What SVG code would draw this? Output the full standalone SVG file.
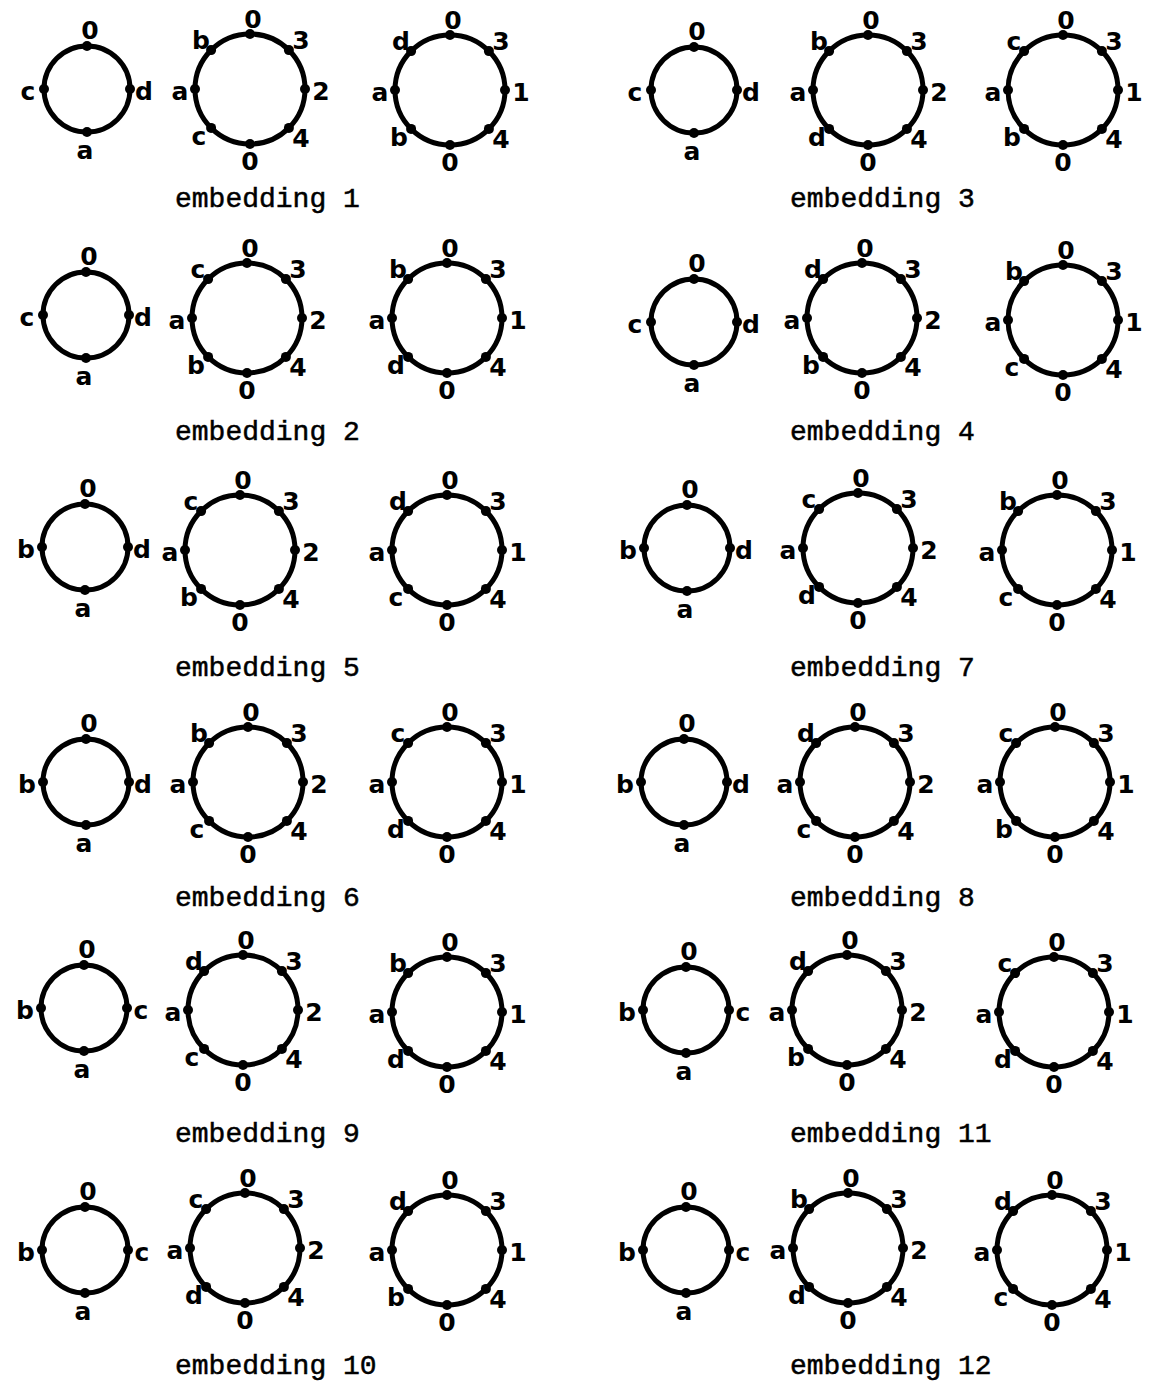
<svg xmlns="http://www.w3.org/2000/svg" xmlns:xlink="http://www.w3.org/1999/xlink" width="1150" height="1388" viewBox="0 0 1150 1388">
<style>
.ring{fill:none;stroke:#000;stroke-width:5}
.dot{fill:#000}
.lbl{font-family:"DejaVu Sans","Liberation Sans",sans-serif;font-size:25px;font-weight:bold;text-anchor:middle;dominant-baseline:central;fill:#000}
.cap{font-family:"Liberation Mono","DejaVu Sans Mono",monospace;font-size:28px;fill:#000;stroke:#000;stroke-width:0.5}
</style>
<defs>
<g id="ring4">
<circle class="ring" r="43"/>
<circle class="dot" cx="0" cy="-43" r="5"/>
<circle class="dot" cx="43" cy="0" r="5"/>
<circle class="dot" cx="0" cy="43" r="5"/>
<circle class="dot" cx="-43" cy="0" r="5"/>
</g>
<g id="ring8">
<circle class="ring" r="55"/>
<circle class="dot" cx="0" cy="-55" r="5"/>
<circle class="dot" cx="38.9" cy="-38.9" r="5"/>
<circle class="dot" cx="55" cy="0" r="5"/>
<circle class="dot" cx="38.9" cy="38.9" r="5"/>
<circle class="dot" cx="0" cy="55" r="5"/>
<circle class="dot" cx="-38.9" cy="38.9" r="5"/>
<circle class="dot" cx="-55" cy="0" r="5"/>
<circle class="dot" cx="-38.9" cy="-38.9" r="5"/>
</g>
</defs>
<rect width="1150" height="1388" fill="#fff"/>
<g id="connectors"/>

<!-- embedding 1 -->
<g id="emb1">
<g id="emb1-s" transform="translate(87,89)"><use xlink:href="#ring4"/>
<text class="lbl" x="3" y="-59">0</text><text class="lbl" x="-59" y="2">c</text><text class="lbl" x="57" y="2">d</text><text class="lbl" x="-2" y="61">a</text></g>
<g id="emb1-m" transform="translate(250,89)"><use xlink:href="#ring8"/>
<text class="lbl" x="3" y="-70">0</text><text class="lbl" x="51" y="-49">3</text><text class="lbl" x="71" y="2">2</text><text class="lbl" x="51" y="49">4</text><text class="lbl" x="0" y="72">0</text><text class="lbl" x="-51" y="47">c</text><text class="lbl" x="-70" y="2">a</text><text class="lbl" x="-49" y="-49">b</text></g>
<g id="emb1-t" transform="translate(450,90)"><use xlink:href="#ring8"/>
<text class="lbl" x="3" y="-70">0</text><text class="lbl" x="51" y="-49">3</text><text class="lbl" x="71" y="2">1</text><text class="lbl" x="51" y="49">4</text><text class="lbl" x="0" y="72">0</text><text class="lbl" x="-51" y="47">b</text><text class="lbl" x="-70" y="2">a</text><text class="lbl" x="-49" y="-49">d</text></g>
<text class="cap" x="175" y="207">embedding 1</text>
</g>

<!-- embedding 3 -->
<g id="emb3">
<g id="emb3-s" transform="translate(694,90)"><use xlink:href="#ring4"/>
<text class="lbl" x="3" y="-59">0</text><text class="lbl" x="-59" y="2">c</text><text class="lbl" x="57" y="2">d</text><text class="lbl" x="-2" y="61">a</text></g>
<g id="emb3-m" transform="translate(868,90)"><use xlink:href="#ring8"/>
<text class="lbl" x="3" y="-70">0</text><text class="lbl" x="51" y="-49">3</text><text class="lbl" x="71" y="2">2</text><text class="lbl" x="51" y="49">4</text><text class="lbl" x="0" y="72">0</text><text class="lbl" x="-51" y="47">d</text><text class="lbl" x="-70" y="2">a</text><text class="lbl" x="-49" y="-49">b</text></g>
<g id="emb3-t" transform="translate(1063,90)"><use xlink:href="#ring8"/>
<text class="lbl" x="3" y="-70">0</text><text class="lbl" x="51" y="-49">3</text><text class="lbl" x="71" y="2">1</text><text class="lbl" x="51" y="49">4</text><text class="lbl" x="0" y="72">0</text><text class="lbl" x="-51" y="47">b</text><text class="lbl" x="-70" y="2">a</text><text class="lbl" x="-49" y="-49">c</text></g>
<text class="cap" x="790" y="207">embedding 3</text>
</g>

<!-- embedding 2 -->
<g id="emb2">
<g id="emb2-s" transform="translate(86,315)"><use xlink:href="#ring4"/>
<text class="lbl" x="3" y="-59">0</text><text class="lbl" x="-59" y="2">c</text><text class="lbl" x="57" y="2">d</text><text class="lbl" x="-2" y="61">a</text></g>
<g id="emb2-m" transform="translate(247,318)"><use xlink:href="#ring8"/>
<text class="lbl" x="3" y="-70">0</text><text class="lbl" x="51" y="-49">3</text><text class="lbl" x="71" y="2">2</text><text class="lbl" x="51" y="49">4</text><text class="lbl" x="0" y="72">0</text><text class="lbl" x="-51" y="47">b</text><text class="lbl" x="-70" y="2">a</text><text class="lbl" x="-49" y="-49">c</text></g>
<g id="emb2-t" transform="translate(447,318)"><use xlink:href="#ring8"/>
<text class="lbl" x="3" y="-70">0</text><text class="lbl" x="51" y="-49">3</text><text class="lbl" x="71" y="2">1</text><text class="lbl" x="51" y="49">4</text><text class="lbl" x="0" y="72">0</text><text class="lbl" x="-51" y="47">d</text><text class="lbl" x="-70" y="2">a</text><text class="lbl" x="-49" y="-49">b</text></g>
<text class="cap" x="175" y="440">embedding 2</text>
</g>

<!-- embedding 4 -->
<g id="emb4">
<g id="emb4-s" transform="translate(694,322)"><use xlink:href="#ring4"/>
<text class="lbl" x="3" y="-59">0</text><text class="lbl" x="-59" y="2">c</text><text class="lbl" x="57" y="2">d</text><text class="lbl" x="-2" y="61">a</text></g>
<g id="emb4-m" transform="translate(862,318)"><use xlink:href="#ring8"/>
<text class="lbl" x="3" y="-70">0</text><text class="lbl" x="51" y="-49">3</text><text class="lbl" x="71" y="2">2</text><text class="lbl" x="51" y="49">4</text><text class="lbl" x="0" y="72">0</text><text class="lbl" x="-51" y="47">b</text><text class="lbl" x="-70" y="2">a</text><text class="lbl" x="-49" y="-49">d</text></g>
<g id="emb4-t" transform="translate(1063,320)"><use xlink:href="#ring8"/>
<text class="lbl" x="3" y="-70">0</text><text class="lbl" x="51" y="-49">3</text><text class="lbl" x="71" y="2">1</text><text class="lbl" x="51" y="49">4</text><text class="lbl" x="0" y="72">0</text><text class="lbl" x="-51" y="47">c</text><text class="lbl" x="-70" y="2">a</text><text class="lbl" x="-49" y="-49">b</text></g>
<text class="cap" x="790" y="440">embedding 4</text>
</g>

<!-- embedding 5 -->
<g id="emb5">
<g id="emb5-s" transform="translate(85,547)"><use xlink:href="#ring4"/>
<text class="lbl" x="3" y="-59">0</text><text class="lbl" x="-59" y="2">b</text><text class="lbl" x="57" y="2">d</text><text class="lbl" x="-2" y="61">a</text></g>
<g id="emb5-m" transform="translate(240,550)"><use xlink:href="#ring8"/>
<text class="lbl" x="3" y="-70">0</text><text class="lbl" x="51" y="-49">3</text><text class="lbl" x="71" y="2">2</text><text class="lbl" x="51" y="49">4</text><text class="lbl" x="0" y="72">0</text><text class="lbl" x="-51" y="47">b</text><text class="lbl" x="-70" y="2">a</text><text class="lbl" x="-49" y="-49">c</text></g>
<g id="emb5-t" transform="translate(447,550)"><use xlink:href="#ring8"/>
<text class="lbl" x="3" y="-70">0</text><text class="lbl" x="51" y="-49">3</text><text class="lbl" x="71" y="2">1</text><text class="lbl" x="51" y="49">4</text><text class="lbl" x="0" y="72">0</text><text class="lbl" x="-51" y="47">c</text><text class="lbl" x="-70" y="2">a</text><text class="lbl" x="-49" y="-49">d</text></g>
<text class="cap" x="175" y="676">embedding 5</text>
</g>

<!-- embedding 7 -->
<g id="emb7">
<g id="emb7-s" transform="translate(687,548)"><use xlink:href="#ring4"/>
<text class="lbl" x="3" y="-59">0</text><text class="lbl" x="-59" y="2">b</text><text class="lbl" x="57" y="2">d</text><text class="lbl" x="-2" y="61">a</text></g>
<g id="emb7-m" transform="translate(858,548)"><use xlink:href="#ring8"/>
<text class="lbl" x="3" y="-70">0</text><text class="lbl" x="51" y="-49">3</text><text class="lbl" x="71" y="2">2</text><text class="lbl" x="51" y="49">4</text><text class="lbl" x="0" y="72">0</text><text class="lbl" x="-51" y="47">d</text><text class="lbl" x="-70" y="2">a</text><text class="lbl" x="-49" y="-49">c</text></g>
<g id="emb7-t" transform="translate(1057,550)"><use xlink:href="#ring8"/>
<text class="lbl" x="3" y="-70">0</text><text class="lbl" x="51" y="-49">3</text><text class="lbl" x="71" y="2">1</text><text class="lbl" x="51" y="49">4</text><text class="lbl" x="0" y="72">0</text><text class="lbl" x="-51" y="47">c</text><text class="lbl" x="-70" y="2">a</text><text class="lbl" x="-49" y="-49">b</text></g>
<text class="cap" x="790" y="676">embedding 7</text>
</g>

<!-- embedding 6 -->
<g id="emb6">
<g id="emb6-s" transform="translate(86,782)"><use xlink:href="#ring4"/>
<text class="lbl" x="3" y="-59">0</text><text class="lbl" x="-59" y="2">b</text><text class="lbl" x="57" y="2">d</text><text class="lbl" x="-2" y="61">a</text></g>
<g id="emb6-m" transform="translate(248,782)"><use xlink:href="#ring8"/>
<text class="lbl" x="3" y="-70">0</text><text class="lbl" x="51" y="-49">3</text><text class="lbl" x="71" y="2">2</text><text class="lbl" x="51" y="49">4</text><text class="lbl" x="0" y="72">0</text><text class="lbl" x="-51" y="47">c</text><text class="lbl" x="-70" y="2">a</text><text class="lbl" x="-49" y="-49">b</text></g>
<g id="emb6-t" transform="translate(447,782)"><use xlink:href="#ring8"/>
<text class="lbl" x="3" y="-70">0</text><text class="lbl" x="51" y="-49">3</text><text class="lbl" x="71" y="2">1</text><text class="lbl" x="51" y="49">4</text><text class="lbl" x="0" y="72">0</text><text class="lbl" x="-51" y="47">d</text><text class="lbl" x="-70" y="2">a</text><text class="lbl" x="-49" y="-49">c</text></g>
<text class="cap" x="175" y="906">embedding 6</text>
</g>

<!-- embedding 8 -->
<g id="emb8">
<g id="emb8-s" transform="translate(684,782)"><use xlink:href="#ring4"/>
<text class="lbl" x="3" y="-59">0</text><text class="lbl" x="-59" y="2">b</text><text class="lbl" x="57" y="2">d</text><text class="lbl" x="-2" y="61">a</text></g>
<g id="emb8-m" transform="translate(855,782)"><use xlink:href="#ring8"/>
<text class="lbl" x="3" y="-70">0</text><text class="lbl" x="51" y="-49">3</text><text class="lbl" x="71" y="2">2</text><text class="lbl" x="51" y="49">4</text><text class="lbl" x="0" y="72">0</text><text class="lbl" x="-51" y="47">c</text><text class="lbl" x="-70" y="2">a</text><text class="lbl" x="-49" y="-49">d</text></g>
<g id="emb8-t" transform="translate(1055,782)"><use xlink:href="#ring8"/>
<text class="lbl" x="3" y="-70">0</text><text class="lbl" x="51" y="-49">3</text><text class="lbl" x="71" y="2">1</text><text class="lbl" x="51" y="49">4</text><text class="lbl" x="0" y="72">0</text><text class="lbl" x="-51" y="47">b</text><text class="lbl" x="-70" y="2">a</text><text class="lbl" x="-49" y="-49">c</text></g>
<text class="cap" x="790" y="906">embedding 8</text>
</g>

<!-- embedding 9 -->
<g id="emb9">
<g id="emb9-s" transform="translate(84,1008)"><use xlink:href="#ring4"/>
<text class="lbl" x="3" y="-59">0</text><text class="lbl" x="-59" y="2">b</text><text class="lbl" x="57" y="2">c</text><text class="lbl" x="-2" y="61">a</text></g>
<g id="emb9-m" transform="translate(243,1010)"><use xlink:href="#ring8"/>
<text class="lbl" x="3" y="-70">0</text><text class="lbl" x="51" y="-49">3</text><text class="lbl" x="71" y="2">2</text><text class="lbl" x="51" y="49">4</text><text class="lbl" x="0" y="72">0</text><text class="lbl" x="-51" y="47">c</text><text class="lbl" x="-70" y="2">a</text><text class="lbl" x="-49" y="-49">d</text></g>
<g id="emb9-t" transform="translate(447,1012)"><use xlink:href="#ring8"/>
<text class="lbl" x="3" y="-70">0</text><text class="lbl" x="51" y="-49">3</text><text class="lbl" x="71" y="2">1</text><text class="lbl" x="51" y="49">4</text><text class="lbl" x="0" y="72">0</text><text class="lbl" x="-51" y="47">d</text><text class="lbl" x="-70" y="2">a</text><text class="lbl" x="-49" y="-49">b</text></g>
<text class="cap" x="175" y="1142">embedding 9</text>
</g>

<!-- embedding 11 -->
<g id="emb11">
<g id="emb11-s" transform="translate(686,1010)"><use xlink:href="#ring4"/>
<text class="lbl" x="3" y="-59">0</text><text class="lbl" x="-59" y="2">b</text><text class="lbl" x="57" y="2">c</text><text class="lbl" x="-2" y="61">a</text></g>
<g id="emb11-m" transform="translate(847,1010)"><use xlink:href="#ring8"/>
<text class="lbl" x="3" y="-70">0</text><text class="lbl" x="51" y="-49">3</text><text class="lbl" x="71" y="2">2</text><text class="lbl" x="51" y="49">4</text><text class="lbl" x="0" y="72">0</text><text class="lbl" x="-51" y="47">b</text><text class="lbl" x="-70" y="2">a</text><text class="lbl" x="-49" y="-49">d</text></g>
<g id="emb11-t" transform="translate(1054,1012)"><use xlink:href="#ring8"/>
<text class="lbl" x="3" y="-70">0</text><text class="lbl" x="51" y="-49">3</text><text class="lbl" x="71" y="2">1</text><text class="lbl" x="51" y="49">4</text><text class="lbl" x="0" y="72">0</text><text class="lbl" x="-51" y="47">d</text><text class="lbl" x="-70" y="2">a</text><text class="lbl" x="-49" y="-49">c</text></g>
<text class="cap" x="790" y="1142">embedding 11</text>
</g>

<!-- embedding 10 -->
<g id="emb10">
<g id="emb10-s" transform="translate(85,1250)"><use xlink:href="#ring4"/>
<text class="lbl" x="3" y="-59">0</text><text class="lbl" x="-59" y="2">b</text><text class="lbl" x="57" y="2">c</text><text class="lbl" x="-2" y="61">a</text></g>
<g id="emb10-m" transform="translate(245,1248)"><use xlink:href="#ring8"/>
<text class="lbl" x="3" y="-70">0</text><text class="lbl" x="51" y="-49">3</text><text class="lbl" x="71" y="2">2</text><text class="lbl" x="51" y="49">4</text><text class="lbl" x="0" y="72">0</text><text class="lbl" x="-51" y="47">d</text><text class="lbl" x="-70" y="2">a</text><text class="lbl" x="-49" y="-49">c</text></g>
<g id="emb10-t" transform="translate(447,1250)"><use xlink:href="#ring8"/>
<text class="lbl" x="3" y="-70">0</text><text class="lbl" x="51" y="-49">3</text><text class="lbl" x="71" y="2">1</text><text class="lbl" x="51" y="49">4</text><text class="lbl" x="0" y="72">0</text><text class="lbl" x="-51" y="47">b</text><text class="lbl" x="-70" y="2">a</text><text class="lbl" x="-49" y="-49">d</text></g>
<text class="cap" x="175" y="1374">embedding 10</text>
</g>

<!-- embedding 12 -->
<g id="emb12">
<g id="emb12-s" transform="translate(686,1250)"><use xlink:href="#ring4"/>
<text class="lbl" x="3" y="-59">0</text><text class="lbl" x="-59" y="2">b</text><text class="lbl" x="57" y="2">c</text><text class="lbl" x="-2" y="61">a</text></g>
<g id="emb12-m" transform="translate(848,1248)"><use xlink:href="#ring8"/>
<text class="lbl" x="3" y="-70">0</text><text class="lbl" x="51" y="-49">3</text><text class="lbl" x="71" y="2">2</text><text class="lbl" x="51" y="49">4</text><text class="lbl" x="0" y="72">0</text><text class="lbl" x="-51" y="47">d</text><text class="lbl" x="-70" y="2">a</text><text class="lbl" x="-49" y="-49">b</text></g>
<g id="emb12-t" transform="translate(1052,1250)"><use xlink:href="#ring8"/>
<text class="lbl" x="3" y="-70">0</text><text class="lbl" x="51" y="-49">3</text><text class="lbl" x="71" y="2">1</text><text class="lbl" x="51" y="49">4</text><text class="lbl" x="0" y="72">0</text><text class="lbl" x="-51" y="47">c</text><text class="lbl" x="-70" y="2">a</text><text class="lbl" x="-49" y="-49">d</text></g>
<text class="cap" x="790" y="1374">embedding 12</text>
</g>
</svg>
